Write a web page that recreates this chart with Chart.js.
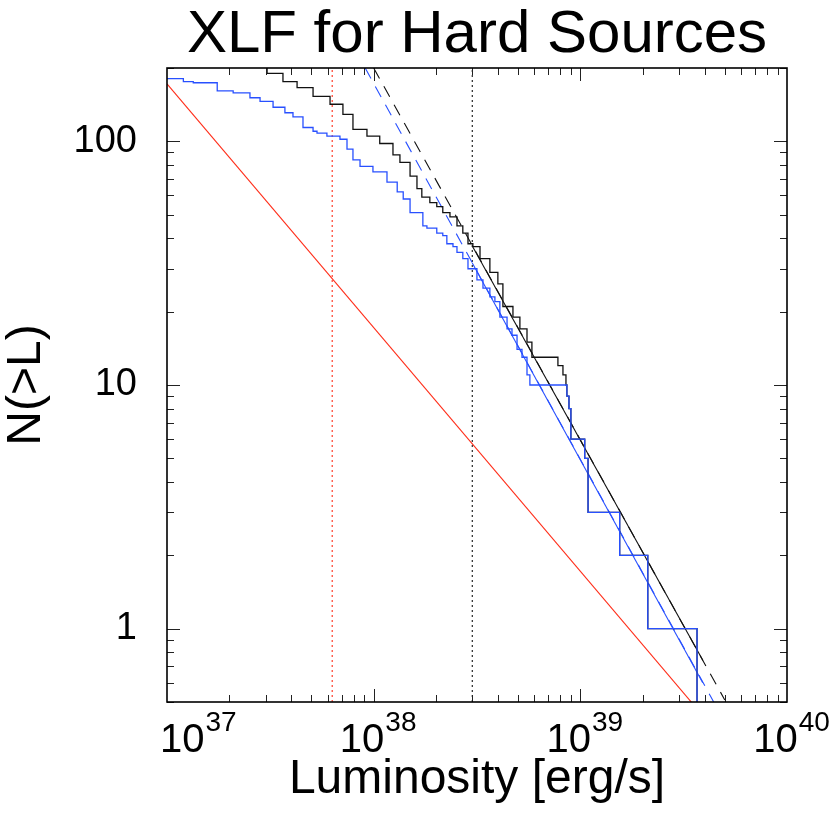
<!DOCTYPE html>
<html>
<head>
<meta charset="utf-8">
<script src="https://cdn.jsdelivr.net/npm/chart.js@4.4.1/dist/chart.umd.min.js"></script>
<style>
  body { margin: 0; background: #fff; }
  #wrap { width: 830px; height: 825px; }
</style>
</head>
<body>
<div id="wrap"><canvas id="xlf" width="830" height="825"></canvas></div>
<script>
// luminosity axis decades and count axis labels
var lumTicks = [1e37, 1e38, 1e39, 1e40];
var countTicks = [1, 10, 100];

// cumulative counts N(>L), all sources (black)
var blackL = [1.0e37, 1.7e37, 2.6e37, 3.05e37, 3.64e37, 4.26e37, 5.09e37, 6.15e37, 7.10e37, 7.94e37,
  9.28e37, 1.07e38, 1.24e38, 1.34e38, 1.50e38, 1.62e38, 1.71e38, 1.87e38, 2.02e38, 2.16e38,
  2.34e38, 2.53e38, 2.70e38, 2.86e38, 3.02e38, 3.27e38, 3.65e38, 3.99e38, 4.22e38, 4.72e38,
  5.10e38, 5.52e38, 5.83e38, 7.79e38, 8.24e38, 8.52e38, 8.61e38, 8.81e38, 9.00e38, 1.05e39,
  1.09e39, 1.55e39, 2.12e39, 3.67e39];
var blackN = [240, 220, 201, 190, 176, 166, 153, 142, 129, 112,
  105, 98, 88, 82, 72, 64, 59, 56, 54, 51,
  49, 45, 42, 38, 37, 33, 29, 26, 21, 19,
  17, 15, 13, 12, 11, 10, 9, 8, 6, 5,
  3, 2, 1, 0.3];

// cumulative counts N(>L), hard sources (blue)
var blueL = [1.0e37, 1.2e37, 1.34e37, 1.75e37, 2.09e37, 2.52e37, 2.82e37, 3.26e37, 3.72e37, 4.07e37,
  4.55e37, 5.09e37, 5.32e37, 5.94e37, 6.87e37, 7.43e37, 7.94e37, 8.59e37, 9.92e37, 1.16e38,
  1.30e38, 1.39e38, 1.50e38, 1.73e38, 1.81e38, 2.02e38, 2.16e38, 2.26e38, 2.42e38, 2.53e38,
  2.70e38, 2.86e38, 3.16e38, 3.38e38, 3.65e38, 3.86e38, 4.08e38, 4.42e38, 4.67e38, 4.94e38,
  5.22e38, 5.52e38, 5.70e38, 8.61e38, 8.81e38, 9.00e38, 1.05e39, 1.09e39, 1.55e39, 2.12e39,
  3.67e39];
var blueN = [181, 176, 174, 161, 158, 151, 146, 138, 131, 126,
  114, 110, 108, 105, 102, 93, 84, 79, 75, 68,
  62, 58, 51, 45, 44, 42, 41, 38, 37, 35,
  33, 30, 27, 25, 23, 22, 19, 17, 16, 14,
  13, 11, 10, 9, 8, 6, 5, 3, 2, 1,
  0.3];

// power law fits (end points), dashed = extrapolation
var blackFitL = [3.0e38, 3.92e39];
var blackFitN = [37.2, 0.74];
var blackExtL = [1.0e38, 5.0e39];
var blackExtN = [200, 0.51];
var blueFitL = [3.0e38, 3.91e39];
var blueFitN = [31.7, 0.60];
var blueExtL = [9.1e37, 4.42e39];
var blueExtN = [200, 0.5];
var redL = [1e37, 1e40];
var redN = [172, 0.172];

// completeness limits
var limitRed = 6.3e37;
var limitBlack = 3.0e38;
var yMin = 0.5, yMax = 200;

var pts = function(xs, ys){
  return xs.map(function(x, i){ return {x: x, y: ys[i]}; });
};

var BLUE = "rgb(40,80,255)";
var RED = "rgb(255,45,25)";

var line = function(data, color, extra){
  var ds = { data: data, borderColor: color, borderWidth: 1.1, pointRadius: 0, fill: false, tension: 0 };
  for (var k in extra) ds[k] = extra[k];
  return ds;
};

//stepped "before" = horizontal run first, then the drop at the new L
var datasets = [
  line(pts(blueL, blueN), BLUE, {stepped: "before", borderWidth: 1.3}),
  line(pts(blackL, blackN), "#111", {stepped: "before", borderWidth: 1.3}),
  line(pts(blueFitL, blueFitN), BLUE, {}),
  line(pts(blueExtL, blueExtN), BLUE, {borderDash: [12, 9]}),
  line(pts(blackFitL, blackFitN), "#111", {}),
  line(pts(blackExtL, blackExtN), "#111", {borderDash: [12, 9]}),
  line(pts(redL, redN), RED, {}),
  line(pts([limitRed, limitRed], [yMin, yMax]), RED, {borderDash: [2, 3]}),
  line(pts([limitBlack, limitBlack], [yMin, yMax]), "#111", {borderDash: [2, 3]})
];

//frame with inward IDL style ticks plus all the text
var idlFrame = {
  id: "idlFrame",
  afterDatasetsDraw: function(chart){
    var ctx = chart.ctx, a = chart.chartArea;
    var xs = chart.scales.x, ys = chart.scales.y;
    ctx.save();
    ctx.strokeStyle = "#222";
    ctx.lineWidth = 1;
    ctx.beginPath();
    for (var d = 37; d < 40; d++) {
      for (var m = 1; m < 10; m++) {
        var v = m * Math.pow(10, d);
        var px = Math.round(xs.getPixelForValue(v)) + 0.5;
        var len = (m === 1) ? 13 : 7;
        if (m === 1 && d === 37) continue;
        ctx.moveTo(px, a.bottom); ctx.lineTo(px, a.bottom - len);
        ctx.moveTo(px, a.top); ctx.lineTo(px, a.top + len);
      }
    }
    for (var e = -1; e < 3; e++) {
      for (var k = 1; k < 10; k++) {
        var val = k * Math.pow(10, e);
        if (val < yMin || val > yMax) continue;
        var py = Math.round(ys.getPixelForValue(val)) + 0.5;
        var l2 = (k === 1) ? 13 : 7;
        ctx.moveTo(a.left, py); ctx.lineTo(a.left + l2, py);
        ctx.moveTo(a.right, py); ctx.lineTo(a.right - l2, py);
      }
    }
    ctx.stroke();
    ctx.lineWidth = 1.6;
    ctx.strokeStyle = "#000";
    ctx.strokeRect(a.left, a.top, a.right - a.left, a.bottom - a.top);
    ctx.restore();
  },
  afterDraw: function(chart){
    var ctx = chart.ctx, a = chart.chartArea;
    var xs = chart.scales.x, ys = chart.scales.y;
    var cx = (a.left + a.right) / 2, cy = (a.top + a.bottom) / 2;
    var fam = '"Liberation Sans", Arial, sans-serif';
    ctx.save();
    ctx.fillStyle = "#000";
    ctx.textBaseline = "alphabetic";
    ctx.textAlign = "center";
    ctx.font = "60px " + fam;
    ctx.fillText("XLF for Hard Sources", cx, 52);
    ctx.font = "48px " + fam;
    ctx.fillText("Luminosity [erg/s]", cx, 793);
    ctx.save();
    ctx.translate(40, cy);
    ctx.rotate(-Math.PI / 2);
    ctx.fillText("N(>L)", 0, 0);
    ctx.restore();

    // count labels
    ctx.textAlign = "right";
    ctx.textBaseline = "middle";
    ctx.font = "38px " + fam;
    countTicks.forEach(function(v){
      ctx.fillText(String(v), 137, ys.getPixelForValue(v));
    });

    // luminosity labels 10^nn
    ctx.textAlign = "left";
    ctx.textBaseline = "alphabetic";
    lumTicks.forEach(function(v){
      var px = xs.getPixelForValue(v);
      var sup = String(Math.round(Math.log10(v)));
      ctx.font = "40px " + fam;
      var wb = ctx.measureText("10").width;
      ctx.font = "28px " + fam;
      var ws = ctx.measureText(sup).width;
      var left = Math.max(px - (wb + ws) / 2 + 4, 160);
      ctx.font = "40px " + fam;
      ctx.fillText("10", left, 752);
      ctx.font = "28px " + fam;
      ctx.fillText(sup, left + wb + 1, 731);
    });
    ctx.restore();
  }
};

var chart = new Chart(document.getElementById("xlf").getContext("2d"), {
  type: "line",
  data: { datasets: datasets },
  options: {
    responsive: false,
    animation: false,
    devicePixelRatio: 1,
    layout: { padding: { left: 167, top: 68, right: 43, bottom: 123 } },
    plugins: { legend: { display: false }, tooltip: { enabled: false }, title: { display: false } },
    scales: {
      x: { type: "logarithmic", min: 1e37, max: 1e40, display: false },
      y: { type: "logarithmic", min: yMin, max: yMax, display: false }
    }
  },
  plugins: [idlFrame]
});
</script>
</body>
</html>
